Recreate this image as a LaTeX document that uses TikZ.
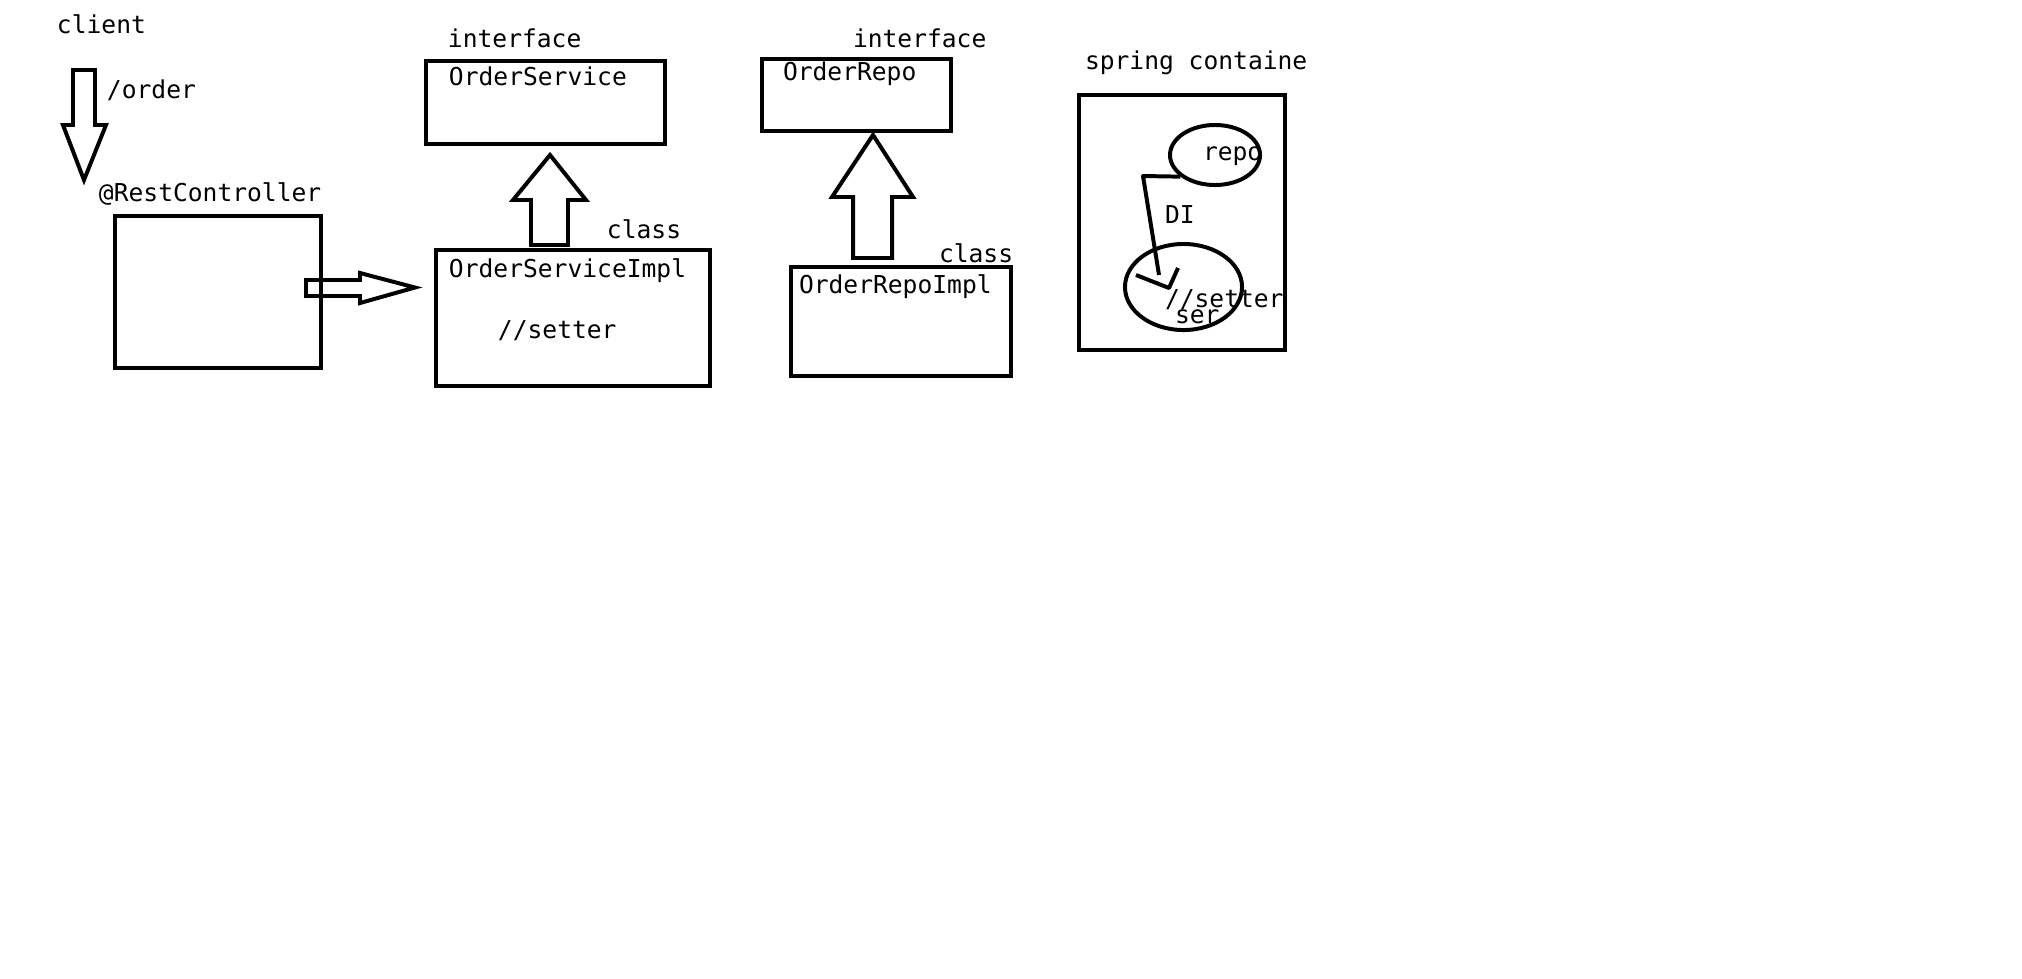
\documentclass[tikz,border=0pt]{standalone}
\usepackage{fontspec}
\setmonofont{DejaVu Sans Mono}
\usetikzlibrary{shapes.geometric}

\begin{document}
\begin{tikzpicture}[x=0.01cm, y=-0.01cm, line width=1.13pt,
  every node/.style={font=\ttfamily\fontsize{7}{8}\selectfont},
  txt/.style={anchor=base west, inner sep=0pt},
  box/.style={draw, rectangle, inner sep=0pt},
  bean/.style={draw, ellipse, inner sep=0pt}]
\fill[white] (0,0) rectangle (2022,978);
\useasboundingbox (0,0) rectangle (2022,978);

\node[box, minimum width=2.06cm, minimum height=1.52cm] (ctrl) at (218,292) {};
\node[box, minimum width=2.39cm, minimum height=0.83cm] (svc) at (545.5,102.5) {};
\node[box, minimum width=2.74cm, minimum height=1.36cm] (svcimpl) at (573,318) {};
\node[box, minimum width=1.89cm, minimum height=0.72cm] (repo) at (856.5,95) {};
\node[box, minimum width=2.20cm, minimum height=1.09cm] (repoimpl) at (901,321.5) {};
\node[box, minimum width=2.06cm, minimum height=2.55cm] (container) at (1182,222.5) {};
\node[bean, minimum width=0.90cm, minimum height=0.60cm] (repobean) at (1215,155) {};
\node[bean, minimum width=1.17cm, minimum height=0.86cm] (serbean) at (1183.5,287) {};

\draw (73,70) -- (95,70) -- (95,125) -- (106,125) -- (84,180) -- (63,125) -- (73,125) -- cycle;
\draw (306,280) -- (360,280) -- (360,273) -- (415,287.5) -- (360,303) -- (360,296) -- (306,296) -- cycle;
\draw (531,245) -- (531,200) -- (513,200) -- (550,155) -- (586,200) -- (568,200) -- (568,245) -- cycle;
\draw (853,258) -- (853,197) -- (832,197) -- (873,135) -- (913,197) -- (892,197) -- (892,258) -- cycle;

\coordinate (dibend) at (1143,176);
\coordinate (diend) at (1159,275);
\coordinate (ditip) at (1169,288);
\draw[line join=round] (repobean.212) -- (dibend) -- (diend);
\draw[line join=round] (1136,275) -- (ditip) -- (1178,268);

\node[txt] (client) at (55,33) {client};
\node[txt] (order) at (105,98) {/order};
\node[txt] (ctrllabel) at (97,201) {@RestController};
\node[txt] (svcif) at (446,47) {interface};
\node[txt] (svcname) at (447,85) {OrderService};
\node[txt] (svcclass) at (605,238) {class};
\node[txt] (svcimplname) at (447,277) {OrderServiceImpl};
\node[txt] (svcsetter) at (496,338) {//setter};
\node[txt] (repoif) at (851,47) {interface};
\node[txt] (reponame) at (781,80) {OrderRepo};
\node[txt] (repoclass) at (937,262) {class};
\node[txt] (repoimplname) at (797,293) {OrderRepoImpl};
\node[txt] (containerlabel) at (1083,69) {spring containe};
\node[txt] (repobeanname) at (1201,160) {repo};
\node[txt] (dilabel) at (1163,223) {DI};
\node[txt] (sersetter) at (1163,307) {//setter};
\node[txt] (serbeanname) at (1173,323) {ser};
\end{tikzpicture}
\end{document}
